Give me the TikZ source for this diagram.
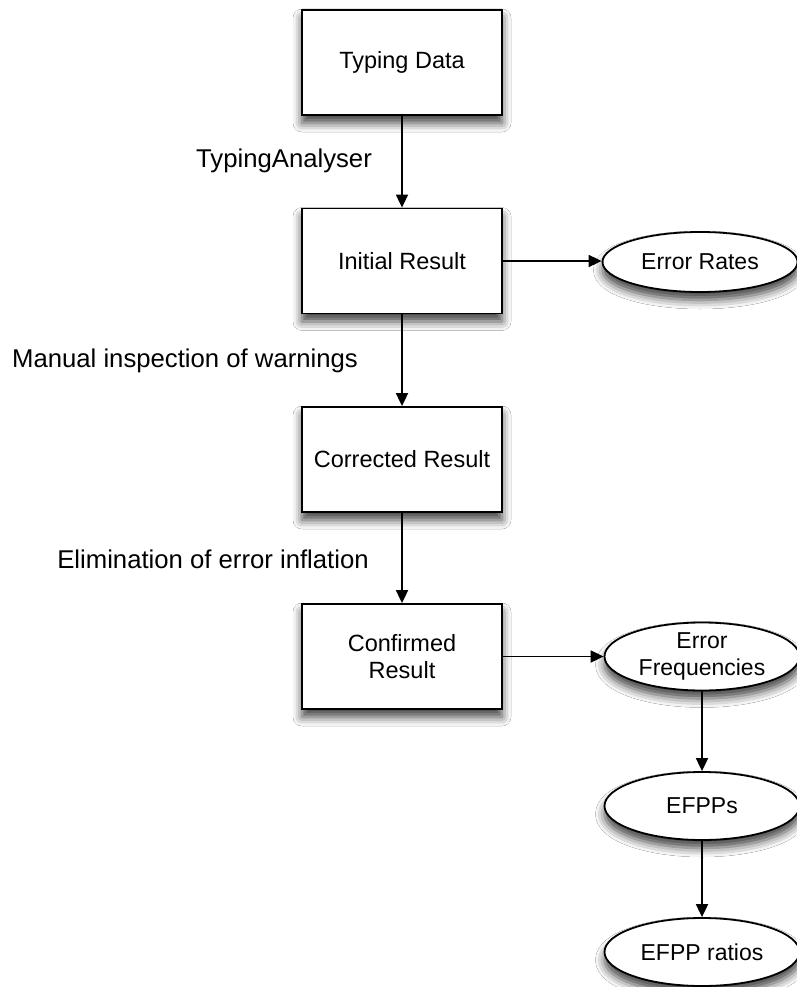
\documentclass[tikz,border=0pt]{standalone}
\usepackage{fontspec}
\setmainfont{Liberation Sans}
\usetikzlibrary{arrows.meta,shapes.geometric,shadows.blur}
\begin{document}
\begin{tikzpicture}[x=1pt,y=-1pt,
  softshadow/.style={blur shadow={shadow xshift=0pt,shadow yshift=-8pt,shadow blur radius=9pt,shadow opacity=75}},
  boxnode/.style={draw=black,line width=1.8pt,fill=white,minimum width=200pt,minimum height=105pt,inner sep=0pt,align=center,
    font=\fontsize{23.5}{27}\selectfont,softshadow},
  ellnode/.style={ellipse,draw=black,line width=1.8pt,fill=white,minimum width=195pt,minimum height=68pt,inner sep=0pt,align=center,
    font=\fontsize{23}{27}\selectfont,softshadow},
  conn/.style={line width=1.8pt,-{Triangle[length=13pt,width=12pt]}},
  lbl/.style={inner sep=0pt,font=\fontsize{25.7}{30}\selectfont}]
\useasboundingbox (0,0) rectangle (796,987);
\fill[white] (0,0) rectangle (796,987);
\node[boxnode] (td) at (402,62.5) {Typing Data};
\node[boxnode] (ir) at (402,261) {Initial Result};
\node[boxnode] (cr) at (402,459.5) {Corrected Result};
\node[boxnode] (cf) at (402,656.5) {Confirmed\\Result};
\node[ellnode,minimum height=60pt] (er) at (700,262) {Error Rates};
\node[ellnode] (ef) at (702,656.5) {Error\\Frequencies};
\node[ellnode] (ep) at (702,806) {EFPPs};
\node[ellnode] (eq) at (702,952) {EFPP ratios};
\draw[conn] (td) -- (ir);
\draw[conn] (ir) -- (cr);
\draw[conn] (cr) -- (cf);
\draw[conn] (ir.east) -- (ir.east -| er.west);
\draw[conn] (cf.east) -- (cf.east -| ef.west);
\draw[conn] (ef) -- (ep);
\draw[conn] (ep) -- (eq);
\node[lbl] (l1) at (284,161) {TypingAnalyser};
\node[lbl] (l2) at (185,361) {Manual inspection of warnings};
\node[lbl] (l3) at (213,559) {Elimination of error inflation};
\end{tikzpicture}
\end{document}
